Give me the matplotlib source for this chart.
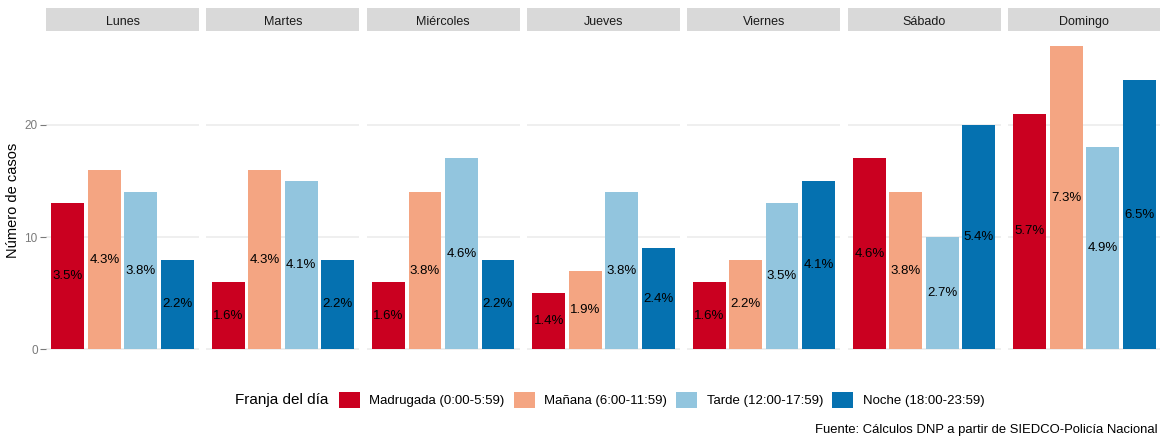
"""
Casos por día de la semana y franja horaria — facet bar chart.
Saves out.png (1160x441).
"""

import matplotlib
matplotlib.use("Agg")
import matplotlib.pyplot as plt
from matplotlib.patches import Patch

plt.rcParams["font.family"] = ["Liberation Sans", "DejaVu Sans"]

# ── data ────────────────────────────────────────────────────────────────
dias = ["Lunes", "Martes", "Miércoles", "Jueves", "Viernes", "Sábado", "Domingo"]
franjas = [
    "Madrugada (0:00-5:59)",
    "Mañana (6:00-11:59)",
    "Tarde (12:00-17:59)",
    "Noche (18:00-23:59)",
]
casos = [
    [13, 16, 14, 8],
    [6, 16, 15, 8],
    [6, 14, 17, 8],
    [5, 7, 14, 9],
    [6, 8, 13, 15],
    [17, 14, 10, 20],
    [21, 27, 18, 24],
]
porcentajes = [
    ["3.5%", "4.3%", "3.8%", "2.2%"],
    ["1.6%", "4.3%", "4.1%", "2.2%"],
    ["1.6%", "3.8%", "4.6%", "2.2%"],
    ["1.4%", "1.9%", "3.8%", "2.4%"],
    ["1.6%", "2.2%", "3.5%", "4.1%"],
    ["4.6%", "3.8%", "2.7%", "5.4%"],
    ["5.7%", "7.3%", "4.9%", "6.5%"],
]
y_ticks = [0, 10, 20]

colores = ["#CA0020", "#F4A582", "#92C5DE", "#0571B0"]

# ── layout (pixels) ─────────────────────────────────────────────────────
W, H = 1160, 441
PANEL_LEFT, PANEL_W, PANEL_STEP = 46, 153.2, 160.3
PANEL_TOP, PANEL_BOTTOM = 31, 364.5
STRIP_TOP = 8
GRID_COLOR = "#EBEBEB"
TEXT_GRAY = "#7A7A7A"

fig = plt.figure(figsize=(W / 100, H / 100), dpi=100)
fig.patch.set_facecolor("white")

x_pos = list(range(1, len(franjas) + 1))
y_max = max(max(v) for v in casos)
pad = 0.05 * y_max

for i, dia in enumerate(dias):
    left = PANEL_LEFT + i * PANEL_STEP
    ax = fig.add_axes([
        left / W,
        (H - PANEL_BOTTOM) / H,
        PANEL_W / W,
        (PANEL_BOTTOM - PANEL_TOP) / H,
    ])
    ax.set_xlim(0.4, len(franjas) + 0.6)
    ax.set_ylim(-pad, y_max + pad)
    for s in ax.spines.values():
        s.set_visible(False)
    ax.set_yticks(y_ticks)
    ax.grid(axis="y", color=GRID_COLOR, linewidth=1.1)
    ax.set_axisbelow(True)
    ax.set_xticks([])

    ax.bar(x_pos, casos[i], width=0.9, color=colores, edgecolor="none")
    for x, v, lab in zip(x_pos, casos[i], porcentajes[i]):
        ax.text(x, v / 2, lab, ha="center", va="center", fontsize=9.5, color="black")

    if i == 0:
        ax.tick_params(axis="y", length=4, width=0.8, color=TEXT_GRAY,
                       labelcolor=TEXT_GRAY, labelsize=8.5, pad=2)
    else:
        ax.tick_params(axis="y", length=0, labelleft=False)

    # facet strip
    sax = fig.add_axes([
        left / W,
        (H - PANEL_TOP) / H,
        PANEL_W / W,
        (PANEL_TOP - STRIP_TOP) / H,
    ])
    sax.set_facecolor("#D9D9D9")
    sax.set_xticks([])
    sax.set_yticks([])
    for s in sax.spines.values():
        s.set_visible(False)
    sax.text(0.5, 0.4, dia, ha="center", va="center", fontsize=9,
             color="#1A1A1A", transform=sax.transAxes)

# y-axis title
fig.text(13 / W, (H - 200) / H, "Número de casos", rotation=90,
         ha="center", va="center", fontsize=10.5, color="black")

# legend, title on the left
fig.text(235 / W, (H - 400) / H, "Franja del día", ha="left", va="center",
         fontsize=11, color="black")
handles = [Patch(facecolor=c, edgecolor="none", label=f) for c, f in zip(colores, franjas)]
fig.legend(
    handles=handles, loc="center left",
    bbox_to_anchor=(339 / W, (H - 400) / H),
    ncol=4, frameon=False, fontsize=9.5,
    handlelength=1.6, handleheight=1.5, handletextpad=0.7,
    columnspacing=0.7, borderpad=0, borderaxespad=0,
)

# caption
fig.text(1158 / W, (H - 430) / H,
         "Fuente: Cálculos DNP a partir de SIEDCO-Policía Nacional",
         ha="right", va="center", fontsize=9.4, color="black")

fig.savefig("out.png", dpi=100)
plt.close(fig)
